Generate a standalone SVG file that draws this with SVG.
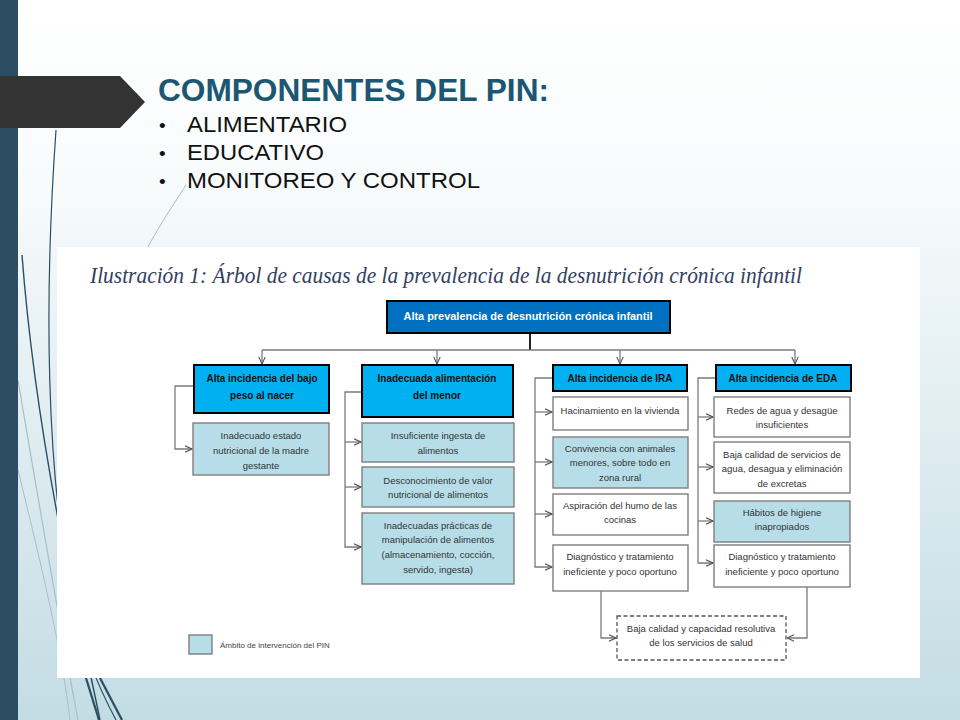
<svg xmlns="http://www.w3.org/2000/svg" width="960" height="720" viewBox="0 0 960 720">
<defs>
<linearGradient id="bg" x1="0" y1="0" x2="0" y2="1">
<stop offset="0" stop-color="#FFFFFF"/>
<stop offset="0.25" stop-color="#F8FBFC"/>
<stop offset="1" stop-color="#C3DCE4"/>
</linearGradient>
<marker id="ar" viewBox="0 0 8 8" refX="7.5" refY="4" markerWidth="8" markerHeight="8" markerUnits="userSpaceOnUse" orient="auto">
<path d="M0.5,0.8 L7.5,4 L0.5,7.2" fill="none" stroke="#555" stroke-width="1.1"/>
</marker>
<style>
.title{font-family:"Liberation Sans",Arial,sans-serif;font-weight:bold;font-size:31px;fill:#1B5673}
.bul{font-family:"Liberation Sans",Arial,sans-serif;font-size:22px;fill:#111}
.dot{font-family:"Liberation Sans",Arial,sans-serif;font-size:19px;fill:#111}
.cap{font-family:"Liberation Serif","Times New Roman",serif;font-style:italic;font-size:23px;fill:#34405F}
.root{fill:#0070C0;stroke:#000;stroke-width:2}
.hd{fill:#00B0F0;stroke:#000;stroke-width:2}
.lb{fill:#B7DDE8;stroke:#7F7F7F;stroke-width:1.4}
.wb{fill:#FFFFFF;stroke:#7F7F7F;stroke-width:1.4}
.db{fill:#FFFFFF;stroke:#555;stroke-width:1.3;stroke-dasharray:4 2.5}
.ht{font-family:"Liberation Sans",Arial,sans-serif;font-weight:bold;font-size:10px;fill:#111;text-anchor:middle}
.rt{font-family:"Liberation Sans",Arial,sans-serif;font-weight:bold;font-size:10px;fill:#FFFFFF;text-anchor:middle}
.tx{font-family:"Liberation Sans",Arial,sans-serif;font-size:9.5px;fill:#333;text-anchor:middle}
.lg{font-family:"Liberation Sans",Arial,sans-serif;font-size:8px;fill:#444}
.cn{fill:none;stroke:#7A7A7A;stroke-width:1.3}
.dk{fill:none;stroke:#2D4D64}
.lt{fill:none;stroke:#A9BEC8}
</style>
</defs>

<rect x="0" y="0" width="960" height="720" fill="url(#bg)"/>

<g id="decor">
<path class="lt" stroke-width="1" d="M186,185 C170,210 155,232 140,262"/>
<path class="lt" stroke-width="1.2" d="M18,380 C35,480 55,600 78,720"/>
<path class="lt" stroke-width="1" d="M18,470 C40,560 62,650 70,720"/>
<path class="dk" stroke-width="1.2" d="M56,130 C44,300 46,470 72,600 C82,650 100,690 116,720"/>
<path class="dk" stroke-width="1.4" d="M22,255 C30,360 48,470 66,560 C78,620 92,680 100,720"/>
<path class="dk" stroke-width="2.2" d="M86,678 L99,720"/>
<path class="dk" stroke-width="2.2" d="M100,678 L122,720"/>
</g>

<rect x="0" y="0" width="18" height="720" fill="#2D4D64"/>
<path d="M0,76 L120,76 L145,102 L120,128 L0,128 Z" fill="#333333"/>

<g id="heading">
<text class="title" x="158" y="101" textLength="391" lengthAdjust="spacingAndGlyphs">COMPONENTES DEL PIN:</text>
<text class="dot" x="159" y="132">•</text>
<text class="bul" x="187" y="132" textLength="160" lengthAdjust="spacingAndGlyphs">ALIMENTARIO</text>
<text class="dot" x="159" y="160">•</text>
<text class="bul" x="187" y="160" textLength="137" lengthAdjust="spacingAndGlyphs">EDUCATIVO</text>
<text class="dot" x="159" y="188">•</text>
<text class="bul" x="187" y="188" textLength="293" lengthAdjust="spacingAndGlyphs">MONITOREO Y CONTROL</text>
</g>

<rect x="57" y="247" width="863" height="431" fill="#FFFFFF"/>

<text class="cap" x="90" y="283" textLength="712" lengthAdjust="spacingAndGlyphs">Ilustración 1: Árbol de causas de la prevalencia de la desnutrición crónica infantil</text>

<g id="connectors">
<line x1="530" y1="333" x2="530" y2="350" stroke="#222" stroke-width="2"/>
<line class="cn" x1="262" y1="350" x2="795" y2="350"/>
<line class="cn" x1="262" y1="350" x2="262" y2="364" marker-end="url(#ar)"/>
<line class="cn" x1="437" y1="350" x2="437" y2="364" marker-end="url(#ar)"/>
<line class="cn" x1="620" y1="350" x2="620" y2="364" marker-end="url(#ar)"/>
<line class="cn" x1="795" y1="350" x2="795" y2="364" marker-end="url(#ar)"/>
<path class="cn" d="M194,386 H175 V449 H192" marker-end="url(#ar)"/>
<path class="cn" d="M362,392 H345 V547 H361" marker-end="url(#ar)"/>
<path class="cn" d="M345,442 H361" marker-end="url(#ar)"/>
<path class="cn" d="M345,487 H361" marker-end="url(#ar)"/>
<path class="cn" d="M553,378 H535 V567 H552" marker-end="url(#ar)"/>
<path class="cn" d="M535,412 H552" marker-end="url(#ar)"/>
<path class="cn" d="M535,462 H552" marker-end="url(#ar)"/>
<path class="cn" d="M535,514 H552" marker-end="url(#ar)"/>
<path class="cn" d="M716,378 H698 V563 H713" marker-end="url(#ar)"/>
<path class="cn" d="M698,417 H713" marker-end="url(#ar)"/>
<path class="cn" d="M698,467 H713" marker-end="url(#ar)"/>
<path class="cn" d="M698,521 H713" marker-end="url(#ar)"/>
<path class="cn" d="M601,591 V638 H616" marker-end="url(#ar)"/>
<path class="cn" d="M807,587 V638 H787" marker-end="url(#ar)"/>
</g>

<g id="root">
<rect class="root" x="387" y="301" width="283" height="32"/>
<text class="rt" x="528" y="320" textLength="249" lengthAdjust="spacingAndGlyphs">Alta prevalencia de  desnutrición crónica infantil</text>
</g>

<g id="bajo-peso">
<rect class="hd" x="194" y="365" width="135" height="48"/>
<text class="ht" x="262" y="382">Alta incidencia del bajo</text>
<text class="ht" x="262" y="399">peso al nacer</text>
</g>
<g id="alimentacion">
<rect class="hd" x="362" y="365" width="151" height="52"/>
<text class="ht" x="437" y="382">Inadecuada alimentación</text>
<text class="ht" x="437" y="399">del menor</text>
</g>
<g id="ira">
<rect class="hd" x="553" y="365" width="134" height="26"/>
<text class="ht" x="620" y="382">Alta incidencia de IRA</text>
</g>
<g id="eda">
<rect class="hd" x="716" y="365" width="135" height="26"/>
<text class="ht" x="783" y="382">Alta incidencia de EDA</text>
</g>

<g id="madre">
<rect class="lb" x="193" y="423" width="136" height="52"/>
<text class="tx" x="261" y="439">Inadecuado estado</text>
<text class="tx" x="261" y="454">nutricional de la madre</text>
<text class="tx" x="261" y="469">gestante</text>
</g>

<g id="ingesta">
<rect class="lb" x="362" y="423" width="152" height="39"/>
<text class="tx" x="438" y="439">Insuficiente ingesta de</text>
<text class="tx" x="438" y="454">alimentos</text>
</g>
<g id="valor">
<rect class="lb" x="362" y="467" width="152" height="40"/>
<text class="tx" x="438" y="484">Desconocimiento de valor</text>
<text class="tx" x="438" y="498">nutricional de alimentos</text>
</g>
<g id="practicas">
<rect class="lb" x="362" y="513" width="152" height="71"/>
<text class="tx" x="438" y="529">Inadecuadas prácticas  de</text>
<text class="tx" x="438" y="543">manipulación de alimentos</text>
<text class="tx" x="438" y="558">(almacenamiento, cocción,</text>
<text class="tx" x="438" y="573">servido, ingesta)</text>
</g>

<g id="hacinamiento">
<rect class="wb" x="553" y="397" width="135" height="33"/>
<text class="tx" x="620" y="414">Hacinamiento en la vivienda</text>
</g>
<g id="convivencia">
<rect class="lb" x="553" y="437" width="135" height="51"/>
<text class="tx" x="620" y="452">Convivencia con animales</text>
<text class="tx" x="620" y="466">menores, sobre todo en</text>
<text class="tx" x="620" y="481">zona rural</text>
</g>
<g id="humo">
<rect class="wb" x="553" y="494" width="135" height="41"/>
<text class="tx" x="620" y="509">Aspiración del humo de las</text>
<text class="tx" x="620" y="523">cocinas</text>
</g>
<g id="diag-ira">
<rect class="wb" x="553" y="545" width="135" height="46"/>
<text class="tx" x="620" y="560">Diagnóstico y tratamiento</text>
<text class="tx" x="620" y="575">ineficiente y poco oportuno</text>
</g>

<g id="redes">
<rect class="wb" x="714" y="397" width="136" height="40"/>
<text class="tx" x="782" y="414">Redes de agua y desagüe</text>
<text class="tx" x="782" y="428">insuficientes</text>
</g>
<g id="servicios">
<rect class="wb" x="714" y="442" width="136" height="51"/>
<text class="tx" x="782" y="458">Baja calidad de servicios de</text>
<text class="tx" x="782" y="472">agua, desagua y eliminación</text>
<text class="tx" x="782" y="487">de excretas</text>
</g>
<g id="habitos">
<rect class="lb" x="714" y="501" width="136" height="41"/>
<text class="tx" x="782" y="516">Hábitos de higiene</text>
<text class="tx" x="782" y="530">inapropiados</text>
</g>
<g id="diag-eda">
<rect class="wb" x="714" y="545" width="136" height="42"/>
<text class="tx" x="782" y="560">Diagnóstico y tratamiento</text>
<text class="tx" x="782" y="575">ineficiente y poco oportuno</text>
</g>

<g id="salud">
<rect class="db" x="617" y="616" width="169" height="44"/>
<text class="tx" x="701" y="632">Baja calidad y capacidad resolutiva</text>
<text class="tx" x="701" y="646">de los servicios de salud</text>
</g>

<g id="legend">
<rect class="lb" x="189" y="635" width="23" height="19"/>
<text class="lg" x="220" y="648">Ámbito de intervención del PIN</text>
</g>
</svg>
